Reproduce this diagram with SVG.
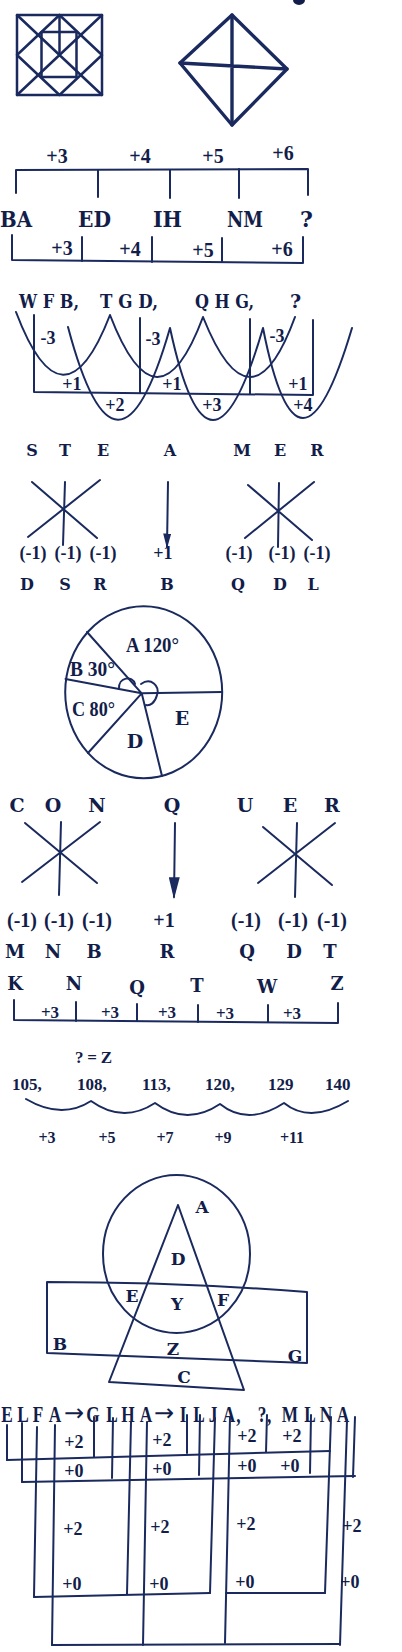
<svg xmlns="http://www.w3.org/2000/svg" width="402" height="1652" viewBox="0 0 402 1652">
<style>
.ln{fill:none;stroke:#1a2a5e;stroke-width:2;stroke-linecap:round;stroke-linejoin:round}
.md{stroke-width:2.5}
.th{stroke-width:3.4}
text{font-family:"Liberation Serif","Times New Roman",serif;font-weight:bold;fill:#121d4a}
.dv text,text.dv{font-family:"DejaVu Serif","Liberation Serif",serif}
.arr text{font-family:"DejaVu Sans","Liberation Sans",sans-serif;font-weight:normal}
.c{text-anchor:middle}
.f15{font-size:15px}.f16{font-size:16px}.f17{font-size:17px}.f18{font-size:18px}.f19{font-size:19px}.f20{font-size:20px}.f21{font-size:21px}.f22{font-size:22px}.f24{font-size:24px}
</style>
<defs>
<marker id="ah1" viewBox="0 0 10 10" refX="9" refY="5" markerWidth="15" markerHeight="8" markerUnits="userSpaceOnUse" orient="auto" preserveAspectRatio="none"><path d="M0,0 L10,5 L0,10 Z" fill="#1a2a5e"/></marker>
<marker id="ah2" viewBox="0 0 10 10" refX="9" refY="5" markerWidth="22" markerHeight="11" markerUnits="userSpaceOnUse" orient="auto" preserveAspectRatio="none"><path d="M0,0 L10,5 L0,10 Z" fill="#1a2a5e"/></marker>
</defs>
<rect width="402" height="1652" fill="#ffffff"/>
<ellipse cx="299" cy="0" rx="6" ry="5" fill="#121d4a"/>

<!-- Section 1: figures -->
<g id="fig-square" class="ln md">
<rect x="17" y="15" width="85" height="80"/>
<path d="M17,15 L102,95 M102,15 L17,95"/>
<path d="M59.5,15 L17,55 L59.5,95 L102,55 Z"/>
<rect x="41.5" y="32" width="35" height="45"/>
<path d="M59.5,15 L59.5,55"/>
</g>
<g id="fig-kite" class="ln th">
<path d="M232,15 L180,63 L232,125 L287,69 Z"/>
<path d="M232,15 L232,125 M180,63 L287,69"/>
</g>

<!-- Section 1: BA ED IH NM -->
<g id="series-ba">
<g class="ln">
<path d="M16,193 L16,170 L308,169 L308,195"/>
<path d="M98,170 V197 M170,170 V198 M239,169 V198"/>
<path d="M12,235 L12,260 L303,263 L303,237"/>
<path d="M82,237 V261 M152,237 V262 M222,238 V262"/>
</g>
<g class="f20 c">
<text x="57" y="163">+3</text><text x="140" y="163">+4</text><text x="213" y="163">+5</text><text x="283" y="160">+6</text>
<text x="62" y="255">+3</text><text x="130" y="256">+4</text><text x="203" y="257">+5</text><text x="282" y="256">+6</text>
</g>
<g class="f22 dv">
<text x="0" y="227" textLength="32" lengthAdjust="spacingAndGlyphs">BA</text>
<text x="78" y="227" textLength="33" lengthAdjust="spacingAndGlyphs">ED</text>
<text x="153" y="227" textLength="29" lengthAdjust="spacingAndGlyphs">IH</text>
<text x="227" y="227" textLength="36" lengthAdjust="spacingAndGlyphs">NM</text>
<text x="300" y="227">?</text>
</g>
</g>

<!-- Section 2: WFB TGD QHG -->
<g id="series-wfb">
<g class="f19 dv">
<text x="19" y="308" textLength="60" lengthAdjust="spacingAndGlyphs">W F B,</text>
<text x="100" y="308" textLength="58" lengthAdjust="spacingAndGlyphs">T G D,</text>
<text x="195" y="308" textLength="59" lengthAdjust="spacingAndGlyphs">Q H G,</text>
<text x="290" y="308">?</text>
</g>
<g class="ln">
<path d="M34,315 V392 L313,395 V320"/>
<path d="M140,318 V392.5 M250,319 V394"/>
<path d="M16,312 Q63,436 110,315 Q157.5,438 203,317 Q251,437 295,317"/>
<path d="M68,327 Q117,512 170,328 Q209.5,512 263,328 Q298.5,508 352,328"/>
</g>
<g class="f18 c">
<text x="48" y="344">-3</text><text x="153" y="345">-3</text><text x="277" y="342">-3</text>
<text x="72" y="390">+1</text><text x="172" y="390">+1</text><text x="298" y="390">+1</text>
<text x="115" y="411">+2</text><text x="212" y="411">+3</text><text x="303" y="411">+4</text>
</g>
</g>

<!-- Section 3: STEAMER -->
<g id="steamer">
<g class="f16 c dv">
<text x="32" y="456">S</text><text x="65" y="456">T</text><text x="103" y="456">E</text><text x="170" y="456">A</text><text x="242" y="456">M</text><text x="280" y="456">E</text><text x="317" y="456">R</text>
<text x="27" y="590">D</text><text x="65" y="590">S</text><text x="100" y="590">R</text><text x="167" y="590">B</text><text x="238" y="590">Q</text><text x="280" y="590">D</text><text x="313" y="590">L</text>
</g>
<g class="f18 c">
<text x="33" y="559">(-1)</text><text x="68" y="559">(-1)</text><text x="103" y="559">(-1)</text><text x="163" y="559">+1</text><text x="239" y="559">(-1)</text><text x="282" y="559">(-1)</text><text x="317" y="559">(-1)</text>
</g>
<g class="ln">
<path d="M32,482 L97,538 M100,480 L28,537 M65,482 L63,545"/>
<path d="M168,482 L167,547" marker-end="url(#ah1)"/>
<path d="M248,485 L312,540 M314,482 L245,538 M279,483 L278,547"/>
</g>
</g>

<!-- Section 4: pie -->
<g id="pie">
<g class="ln">
<ellipse cx="143.7" cy="692.3" rx="78.5" ry="86"/>
<path d="M141.7,693.3 L87,632 M141.7,693.3 L65.5,679 M141.7,693.3 L88,753 M141.7,693.3 L162,776 M141.7,693.3 L222,692"/>
<path d="M119,689 C118,677 133,675 135,684"/>
<path d="M141,684 C151,677 160,686 157,695 C155,703 150,706 146,705"/>
</g>
<g class="f21">
<text x="126" y="652" textLength="53" lengthAdjust="spacingAndGlyphs">A 120°</text>
<text x="70" y="676" textLength="45" lengthAdjust="spacingAndGlyphs">B 30°</text>
<text x="72" y="716" textLength="43" lengthAdjust="spacingAndGlyphs">C 80°</text>
</g>
<g class="f19 dv c">
<text x="135" y="748">D</text>
<text x="182" y="725">E</text>
</g>
</g>

<!-- Section 5: CONQUER -->
<g id="conquer">
<g class="f19 c dv">
<text x="17" y="812">C</text><text x="53" y="812">O</text><text x="97" y="812">N</text><text x="172" y="812">Q</text><text x="245" y="812">U</text><text x="290" y="812">E</text><text x="332" y="812">R</text>
</g>
<g class="f20 c">
<text x="22" y="927">(-1)</text><text x="59" y="927">(-1)</text><text x="97" y="927">(-1)</text><text x="164" y="927">+1</text><text x="246" y="927">(-1)</text><text x="293" y="927">(-1)</text><text x="332" y="927">(-1)</text>
</g>
<g class="f18 c dv">
<text x="15" y="958">M</text><text x="53" y="958">N</text><text x="94" y="958">B</text><text x="167" y="958">R</text><text x="247" y="958">Q</text><text x="294" y="958">D</text><text x="330" y="958">T</text>
</g>
<g class="ln">
<path d="M25,823 L97,883 M100,822 L22,882 M61,822 L59,895"/>
<path d="M175,823 L174,897" marker-end="url(#ah2)"/>
<path d="M263,827 L332,885 M335,823 L258,883 M297,823 L295,897"/>
</g>
</g>

<!-- Section 5b: KNQTWZ -->
<g id="series-k">
<g class="f18 c dv">
<text x="15" y="990">K</text><text x="74" y="990">N</text><text x="137" y="994">Q</text><text x="197" y="992">T</text><text x="267" y="993">W</text><text x="337" y="990">Z</text>
</g>
<g class="ln">
<path d="M14,1000 L14,1020 L338,1023 L338,1003"/>
<path d="M76,1002 V1021 M137,1004 V1021 M198,1005 V1022 M268,1005 V1022"/>
</g>
<g class="f17 c">
<text x="50" y="1018">+3</text><text x="110" y="1018">+3</text><text x="167" y="1018">+3</text><text x="225" y="1019">+3</text><text x="292" y="1019">+3</text>
</g>
</g>

<!-- Section 6: number series -->
<g id="numbers">
<text x="75" y="1063" class="f17" textLength="37">? = Z</text>
<g class="f17">
<text x="12" y="1090">105,</text><text x="77" y="1090">108,</text><text x="142" y="1090">113,</text><text x="205" y="1090">120,</text><text x="268" y="1090">129</text><text x="325" y="1090">140</text>
</g>
<path class="ln" d="M26,1099 Q61.5,1120 91,1101 Q123,1124 155,1103 Q186.5,1126.5 220,1104 Q248,1126.5 284,1103 Q310,1124 348,1101"/>
<g class="f16 c">
<text x="47" y="1143">+3</text><text x="107" y="1143">+5</text><text x="165" y="1143">+7</text><text x="223" y="1143">+9</text><text x="292" y="1143">+11</text>
</g>
</g>

<!-- Section 7: Venn -->
<g id="venn">
<g class="ln">
<ellipse cx="176.5" cy="1254" rx="73.5" ry="79"/>
<path d="M178,1205 L109,1382 L244,1390 Z"/>
<path d="M47,1282 Q177,1282 307,1292 L307,1363 L47,1353 Z"/>
</g>
<g class="f17 c dv">
<text x="202" y="1213">A</text><text x="178" y="1265">D</text><text x="132" y="1302">E</text><text x="177" y="1310">Y</text><text x="223" y="1306">F</text>
<text x="60" y="1350">B</text><text x="173" y="1355">Z</text><text x="295" y="1362">G</text><text x="184" y="1383">C</text>
</g>
</g>

<!-- Section 8: letter groups -->
<g id="elfa">
<g class="f24 c" transform="scale(0.72,1)">
<text x="9.7" y="1422">E</text><text x="31.9" y="1422">L</text><text x="52.8" y="1422">F</text><text x="76.4" y="1422">A</text>
<text x="129.2" y="1422">G</text><text x="155.6" y="1422">L</text><text x="177.8" y="1422">H</text><text x="202.8" y="1422">A</text>
<text x="254.2" y="1422">I</text><text x="276.4" y="1422">L</text><text x="295.8" y="1422">J</text><text x="318.1" y="1422">A</text><text x="331" y="1422">,</text>
<text x="364" y="1422">?</text><text x="374" y="1422">,</text>
<text x="402.8" y="1422">M</text><text x="430.6" y="1422">L</text><text x="452.8" y="1422">N</text><text x="476.4" y="1422">A</text>
</g>
<g class="f24 arr c">
<text x="74" y="1421">→</text><text x="164" y="1421">→</text>
</g>
<g class="ln">
<path d="M7,1425 V1460 M22,1423 V1482 M37,1427 L34,1597 M55,1425 L52,1645"/>
<path d="M94,1417 V1457 M113,1418 L112,1478 M131,1422 L127,1594 M147,1422 L143,1645"/>
<path d="M187,1415 V1453 M200,1415 L199,1475 M215,1418 L210,1593 M230,1417 L225,1643"/>
<path d="M267,1415 L266,1452 M311,1415 L310,1473 M331,1417 L325,1593 M347,1420 L340,1645 M355,1417 L353,1477"/>
<path d="M7,1460 L330,1451"/>
<path d="M22,1482 L355,1476"/>
<path d="M34,1597 L210,1593"/>
<path d="M226,1593 L325,1593"/>
<path d="M52,1645 L340,1644"/>
</g>
<g class="f18 c">
<text x="74" y="1448">+2</text><text x="162" y="1446">+2</text><text x="247" y="1442">+2</text><text x="292" y="1442">+2</text>
<text x="74" y="1477">+0</text><text x="162" y="1475">+0</text><text x="247" y="1472">+0</text><text x="290" y="1472">+0</text>
<text x="73" y="1535">+2</text><text x="72" y="1590">+0</text>
<text x="160" y="1533">+2</text><text x="159" y="1590">+0</text>
<text x="246" y="1530">+2</text><text x="245" y="1588">+0</text>
<text x="352" y="1532">+2</text><text x="350" y="1588">+0</text>
</g>
</g>
</svg>
